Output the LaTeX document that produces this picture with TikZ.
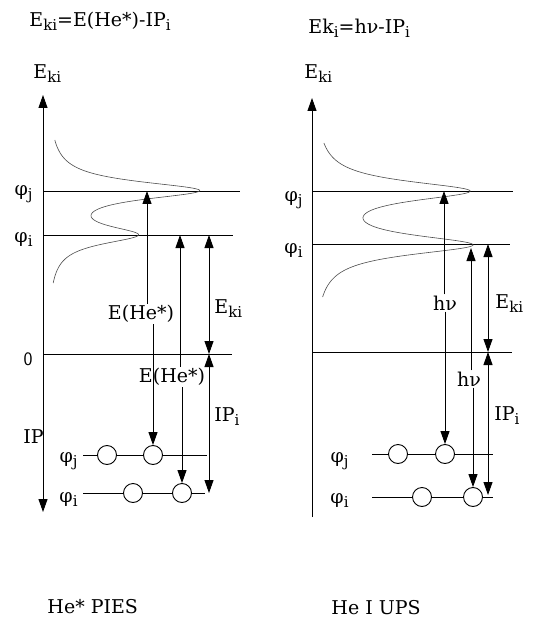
\documentclass[tikz,border=0pt]{standalone}
\usepackage{fontspec}
\setmainfont{DejaVu Serif}
\newfontfamily\grk{DejaVu Serif}
\newcommand{\subtxt}[1]{\raisebox{-4pt}{\fontsize{15}{15}\selectfont #1}}
\usetikzlibrary{arrows.meta}

\begin{document}
\begin{tikzpicture}[x=1pt, y=-1pt, line width=0.9pt, >={Triangle[length=13pt,width=9pt]},
    every node/.style={inner sep=1pt, font=\fontsize{19}{23}\selectfont},
    elec/.style={draw, circle, fill=white, minimum size=19pt, inner sep=0pt},
    spec/.style={draw=black!70, line width=0.6pt}]
    \useasboundingbox (0,0) rectangle (535,620);

    % Left diagram (He* PIES)
    \node[anchor=base west] (Ltitle) at (28,27) {E\subtxt{ki}=E(He*)-IP\subtxt{i}};
    \node[anchor=base west] (LEax) at (32,79) {E\subtxt{ki}};
    \coordinate (Ltop) at (43,95);
    \coordinate (Lbot) at (43,512);
    \draw[<->] (Lbot) -- (Ltop);

    % Left levels
    \coordinate (LjA) at (43,191);  \coordinate (LjB) at (240,191);
    \coordinate (LiA) at (43,235);  \coordinate (LiB) at (233,235);
    \coordinate (LzA) at (43,354);  \coordinate (LzB) at (232,354);
    \draw (LjA) -- (LjB);
    \draw (LiA) -- (LiB);
    \draw (LzA) -- (LzB);
    \node[anchor=base east] (Lphj) at (34,196) {{\grk φ}\subtxt{j}};
    \node[anchor=base east] (Lphi) at (34,242) {{\grk φ}\subtxt{i}};
    \node (Lzero) at (28,359) {\sffamily 0};
    \node[anchor=base west] (LIPax) at (22,443) {IP};

    % Left spectrum
    \draw[spec] plot[domain=140:283, samples=200, variable=\t]
        ({47+148/(1+((\t-190.5)/11)^2)+83/(1+((\t-235)/11)^2)}, \t);

    % Left electrons
    \node[anchor=base east] (Lphj2) at (79,462) {{\grk φ}\subtxt{j}};
    \node[anchor=base east] (Lphi2) at (79,502) {{\grk φ}\subtxt{i}};
    \coordinate (LejA) at (83,455);  \coordinate (LejB) at (207,455);
    \node[elec] (Lej1) at (107,455) {};
    \node[elec] (Lej2) at (153,455) {};
    \draw (LejA) -- (Lej1) -- (Lej2) -- (LejB);
    \coordinate (LeiA) at (83,493);  \coordinate (LeiB) at (205,493);
    \node[elec] (Lei1) at (133,493) {};
    \node[elec] (Lei2) at (182,493) {};
    \draw (LeiA) -- (Lei1) -- (Lei2) -- (LeiB);

    % Left arrows
    \coordinate (A1t) at (147,191);
    \node (He1) at (141,314) {E(He*)};
    \draw[->] (He1.north -| A1t) -- (A1t);
    \draw[->] (He1.south -| Lej2) -- (Lej2);
    \coordinate (A2t) at (180,235);
    \node (He2) at (172,377) {E(He*)};
    \draw[->] (He2.north -| A2t) -- (A2t);
    \draw[->] (He2.south -| Lei2) -- (Lei2);
    \coordinate (A3i) at (209,235);
    \coordinate (A3z) at (209,354);
    \coordinate (A3b) at (209,493);
    \draw[<->] (A3i) -- (A3z);
    \draw[<->] (A3z) -- (A3b);
    \node[anchor=base west] (LEk) at (213,313) {E\subtxt{ki}};
    \node[anchor=base west] (LIP) at (213,421) {IP\subtxt{i}};
    \node[anchor=base west] (Lname) at (46,613) {He* PIES};

    % Right diagram (He I UPS)
    \node[anchor=base west] (Rtitle) at (307,34) {Ek\subtxt{i}=h{\grk ν}-IP\subtxt{i}};
    \node[anchor=base west] (REax) at (303,79) {E\subtxt{ki}};
    \coordinate (Rtop) at (312,98);
    \coordinate (Rbot) at (312,517);
    \draw[->] (Rbot) -- (Rtop);

    % Right levels
    \coordinate (RjA) at (312,191);  \coordinate (RjB) at (513,191);
    \coordinate (RiA) at (312,244);  \coordinate (RiB) at (510,244);
    \coordinate (RzA) at (312,352);  \coordinate (RzB) at (512,352);
    \draw (RjA) -- (RjB);
    \draw (RiA) -- (RiB);
    \draw (RzA) -- (RzB);
    \node[anchor=base east] (Rphj) at (304,202) {{\grk φ}\subtxt{j}};
    \node[anchor=base east] (Rphi) at (304,253) {{\grk φ}\subtxt{i}};

    % Right spectrum
    \draw[spec] plot[domain=143:297, samples=200, variable=\t]
        ({313+150/(1+((\t-191)/12)^2)+153/(1+((\t-245)/12)^2)}, \t);

    % Right electrons
    \node[anchor=base east] (Rphj2) at (350,462) {{\grk φ}\subtxt{j}};
    \node[anchor=base east] (Rphi2) at (350,503) {{\grk φ}\subtxt{i}};
    \coordinate (RejA) at (372,454);  \coordinate (RejB) at (493,454);
    \node[elec] (Rej1) at (398,454) {};
    \node[elec] (Rej2) at (445,454) {};
    \draw (RejA) -- (Rej1) -- (Rej2) -- (RejB);
    \coordinate (ReiA) at (372,497);  \coordinate (ReiB) at (493,497);
    \node[elec] (Rei1) at (422,497) {};
    \node[elec] (Rei2) at (473,497) {};
    \draw (ReiA) -- (Rei1) -- (Rei2) -- (ReiB);

    % Right arrows
    \coordinate (B1t) at (444,191);
    \node (Hv1) at (445,303) {h{\grk ν}};
    \draw[->] (Hv1.north -| B1t) -- (B1t);
    \draw[->] (Hv1.south -| Rej2) -- (Rej2);
    \coordinate (B2t) at (471,248);
    \node (Hv2) at (469,379) {h{\grk ν}};
    \draw[->] (Hv2.north -| B2t) -- (B2t);
    \draw[->] (Hv2.south -| Rei2) -- (Rei2);
    \coordinate (B3i) at (488,244);
    \coordinate (B3z) at (488,352);
    \coordinate (B3b) at (488,495);
    \draw[<->] (B3i) -- (B3z);
    \draw[<->] (B3z) -- (B3b);
    \node[anchor=base west] (REk) at (494,308) {E\subtxt{ki}};
    \node[anchor=base west] (RIP) at (493,420) {IP\subtxt{i}};
    \node[anchor=base west] (Rname) at (330,614) {He I UPS};
\end{tikzpicture}
\end{document}
